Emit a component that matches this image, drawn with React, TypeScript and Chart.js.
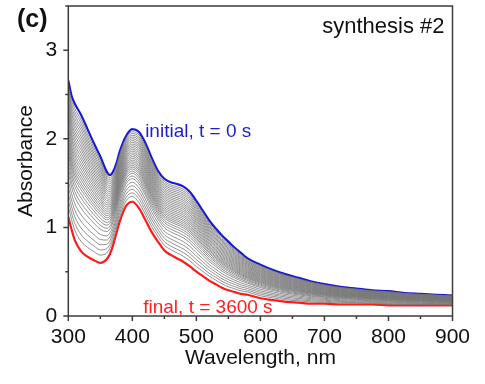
import React, { useEffect, useRef } from "react";
import { Chart, registerables } from "chart.js";

Chart.register(...registerables);

// Wavelength grid (nm)
const wavelengths = [
  300, 305, 310, 320, 330, 340, 350, 360, 365, 370, 375, 380, 390, 400, 410,
  420, 430, 440, 450, 460, 470, 480, 490, 500, 510, 520, 530, 540, 550, 560,
  570, 580, 600, 620, 640, 660, 680, 700, 725, 750, 775, 800, 825, 850, 875, 900,
];

// Initial spectrum, t = 0 s (blue)
const initialSpectrum = [
  2.66, 2.49, 2.40, 2.27, 2.11, 1.95, 1.80, 1.63, 1.59, 1.63, 1.72, 1.85, 2.03, 2.11, 2.08,
  1.96, 1.79, 1.64, 1.55, 1.51, 1.49, 1.46, 1.40, 1.30, 1.19, 1.08, 0.99, 0.91, 0.84, 0.77,
  0.71, 0.65, 0.58, 0.52, 0.47, 0.43, 0.39, 0.36, 0.33, 0.31, 0.29, 0.28, 0.26, 0.25, 0.24, 0.23,
];

// Final spectrum, t = 3600 s (red)
const finalSpectrum = [
  1.12, 0.98, 0.86, 0.73, 0.67, 0.63, 0.60, 0.64, 0.70, 0.80, 0.93, 1.06, 1.24, 1.29, 1.22,
  1.09, 0.95, 0.84, 0.74, 0.69, 0.65, 0.61, 0.56, 0.50, 0.45, 0.40, 0.36, 0.32, 0.29, 0.27,
  0.25, 0.24, 0.20, 0.18, 0.16, 0.15, 0.14, 0.14, 0.13, 0.13, 0.13, 0.12, 0.12, 0.12, 0.12, 0.12,
];

// Peak absorbance (~400 nm) of the intermediate (grey) spectra
const intermediatePeaks = [
  1.35, 1.39, 1.43, 1.47, 1.51, 1.55, 1.58, 1.61, 1.635, 1.66, 1.68, 1.70, 1.72, 1.74,
  1.76, 1.78, 1.80, 1.82, 1.84, 1.86, 1.88, 1.90, 1.92, 1.94, 1.96, 1.98, 2.00, 2.02,
  2.04, 2.06, 2.08,
];

const xTicks = [300, 400, 500, 600, 700, 800, 900];
const xMinorTicks = [350, 450, 550, 650, 750, 850];
const yTicks = [0, 1, 2, 3];
const yMinorTicks = [0.5, 1.5, 2.5, 3.5];

const FONT = "'Liberation Sans', Arial, Helvetica, sans-serif";

const PEAK_INDEX = wavelengths.indexOf(400);

function toPoints(values: number[]) {
  return wavelengths.map((w, i) => ({ x: w, y: values[i] }));
}

function intermediate(peak: number) {
  const lo = finalSpectrum[PEAK_INDEX];
  const hi = initialSpectrum[PEAK_INDEX];
  const f = (peak - lo) / (hi - lo);
  return wavelengths.map((w, i) => ({
    x: w,
    y: finalSpectrum[i] + f * (initialSpectrum[i] - finalSpectrum[i]),
  }));
}

const decorPlugin = {
  id: "decor",
  afterDraw(chart: any) {
    const { ctx, chartArea: a, scales } = chart;
    const xs = scales.x;
    const ys = scales.y;
    ctx.save();
    ctx.strokeStyle = "#3c3c3c";
    ctx.lineWidth = 1.5;
    ctx.strokeRect(a.left, a.top, a.right - a.left, a.bottom - a.top);
    ctx.beginPath();
    xTicks.forEach((v) => {
      const px = xs.getPixelForValue(v);
      ctx.moveTo(px, a.bottom);
      ctx.lineTo(px, a.bottom + 5);
    });
    xMinorTicks.forEach((v) => {
      const px = xs.getPixelForValue(v);
      ctx.moveTo(px, a.bottom);
      ctx.lineTo(px, a.bottom + 3);
    });
    yTicks.forEach((v) => {
      const py = ys.getPixelForValue(v);
      ctx.moveTo(a.left, py);
      ctx.lineTo(a.left - 5, py);
    });
    yMinorTicks.forEach((v) => {
      const py = ys.getPixelForValue(v);
      ctx.moveTo(a.left, py);
      ctx.lineTo(a.left - 3, py);
    });
    ctx.stroke();

    ctx.textBaseline = "alphabetic";
    ctx.textAlign = "left";
    ctx.fillStyle = "#1e1ecd";
    ctx.font = `19px ${FONT}`;
    ctx.fillText("initial, t = 0 s", xs.getPixelForValue(420), ys.getPixelForValue(2.02));
    ctx.fillStyle = "#ff2020";
    ctx.fillText("final, t = 3600 s", xs.getPixelForValue(417), ys.getPixelForValue(0.035));

    ctx.fillStyle = "#111";
    ctx.font = `22px ${FONT}`;
    ctx.textAlign = "right";
    ctx.fillText("synthesis #2", a.right - 8, a.top + 27);

    ctx.font = `bold 25px ${FONT}`;
    ctx.textAlign = "left";
    ctx.fillText("(c)", 17, 27);
    ctx.restore();
  },
};

export default function App() {
  const canvasRef = useRef<HTMLCanvasElement | null>(null);

  useEffect(() => {
    if (!canvasRef.current) return;
    const grey = intermediatePeaks.map((p) => ({
      data: intermediate(p),
      borderColor: "rgba(118,118,118,0.95)",
      borderWidth: 0.85,
      pointRadius: 0,
      cubicInterpolationMode: "monotone" as const,
    }));
    const chart = new Chart(canvasRef.current, {
      type: "line",
      data: {
        datasets: [
          ...grey,
          {
            data: toPoints(finalSpectrum),
            borderColor: "#ff1a1a",
            borderWidth: 2.2,
            pointRadius: 0,
            cubicInterpolationMode: "monotone",
          },
          {
            data: toPoints(initialSpectrum),
            borderColor: "#1a1ad2",
            borderWidth: 2.2,
            pointRadius: 0,
            cubicInterpolationMode: "monotone",
          },
        ] as any,
      },
      options: {
        responsive: false,
        animation: false,
        layout: { padding: { left: 0, top: 6, right: 32.5, bottom: 0 } },
        plugins: {
          legend: { display: false },
          tooltip: { enabled: false },
        },
        scales: {
          x: {
            type: "linear",
            min: 300,
            max: 900,
            grid: { display: false, drawTicks: false },
            border: { display: false },
            afterBuildTicks: (s: any) => {
              s.ticks = xTicks.map((v) => ({ value: v }));
            },
            afterFit: (s: any) => {
              s.height = 68;
              s.paddingLeft = 0;
              s.paddingRight = 0;
            },
            ticks: {
              padding: 9,
              color: "#111",
              font: { family: FONT, size: 21 },
              maxRotation: 0,
            },
            title: {
              display: true,
              text: "Wavelength, nm",
              color: "#111",
              font: { family: FONT, size: 21 },
              padding: { top: 0, bottom: 13 },
            },
          },
          y: {
            type: "linear",
            min: 0,
            max: 3.5,
            grid: { display: false, drawTicks: false },
            border: { display: false },
            afterBuildTicks: (s: any) => {
              s.ticks = yTicks.map((v) => ({ value: v }));
            },
            afterFit: (s: any) => {
              s.width = 68.3;
              s.paddingTop = 0;
              s.paddingBottom = 0;
            },
            ticks: {
              padding: 11,
              color: "#111",
              font: { family: FONT, size: 21 },
            },
            title: {
              display: true,
              text: "Absorbance",
              color: "#111",
              font: { family: FONT, size: 21 },
              padding: { top: 14, bottom: 0 },
            },
          },
        },
      },
      plugins: [decorPlugin],
    });
    return () => chart.destroy();
  }, []);

  return (
    <div style={{ position: "absolute", left: 0, top: 0, width: 485, height: 384, background: "#fff" }}>
      <canvas ref={canvasRef} width={485} height={384} style={{ display: "block", width: 485, height: 384 }} />
    </div>
  );
}
